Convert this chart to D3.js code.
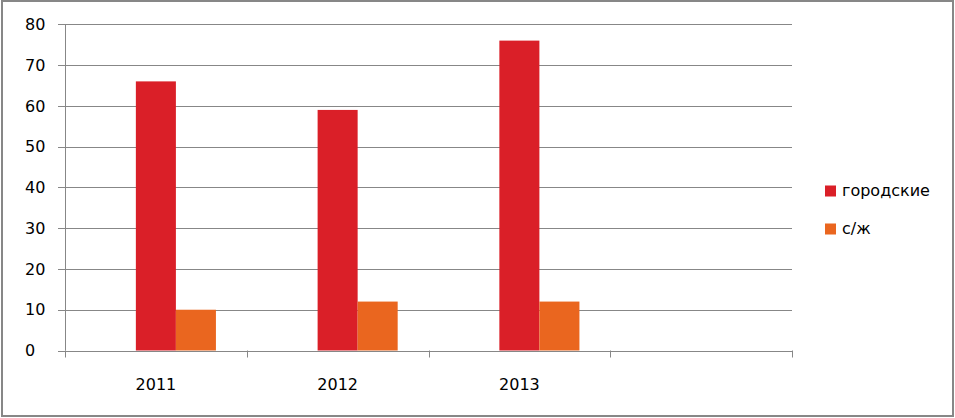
<!DOCTYPE html>
<html><head><meta charset="utf-8">
<script src="https://cdn.jsdelivr.net/npm/d3@7"></script>
<style>html,body{margin:0;padding:0;background:#fff;}svg{display:block;}</style>
</head><body>
<svg id="c" width="955" height="418"></svg>
<script>
const categories = ["2011", "2012", "2013", ""];
const seriesNames = ["", "городские", "с/ж"];
const seriesBlank = [null, null, null, null];
const seriesCity = [66, 59, 76, null];
const seriesRural = [10, 12, 12, null];
const seriesColors = ["none", "#DA1F28", "#EA661F"];
const yTicks = [0, 10, 20, 30, 40, 50, 60, 70, 80];
const legendItems = [1, 2];

(function () {
const svg = d3.select("#c");
const font = "'DejaVu Sans', Verdana, sans-serif";
const grid = "#878787";

svg.append("rect").attr("x", 2).attr("y", 1).attr("width", 951).attr("height", 415)
  .attr("fill", "#fff").attr("stroke", grid).attr("stroke-width", 2);

const pL = 65, pR = 792, pT = 24.3, pB = 350.5;
const x = d3.scaleBand().domain(categories.map((c, i) => i)).range([pL, pR]).padding(0);
const y = d3.scaleLinear().domain([0, 80]).range([pB, pT]);
const sub = d3.scaleBand().domain([0, 1, 2]).range([0, x.bandwidth()]).paddingOuter(0.77).paddingInner(0);

// gridlines
svg.append("g").selectAll("line").data(yTicks).join("line")
  .attr("x1", pL - 7).attr("x2", pR)
  .attr("y1", d => Math.round(y(d)) + 0.5).attr("y2", d => Math.round(y(d)) + 0.5)
  .attr("stroke", grid).attr("stroke-width", 1);

// y labels
svg.append("g").selectAll("text").data(yTicks).join("text")
  .attr("x", 25).attr("y", d => y(d)).attr("dy", "0.36em")
  .attr("font-family", font).attr("font-size", 16).attr("fill", "#000")
  .text(d => d);

// y axis line
svg.append("line").attr("x1", pL + 0.5).attr("x2", pL + 0.5).attr("y1", pT).attr("y2", pB)
  .attr("stroke", grid);

// x ticks
const tickXs = categories.map((c, i) => x(i)).concat([pR]);
svg.append("g").selectAll("line").data(tickXs).join("line")
  .attr("x1", d => Math.round(d) + 0.5).attr("x2", d => Math.round(d) + 0.5)
  .attr("y1", pB).attr("y2", pB + 7).attr("stroke", grid);

// bars
const allSeries = [seriesBlank, seriesCity, seriesRural];
allSeries.forEach((vals, s) => {
  if (s === 0) return;
  svg.append("g").selectAll("rect").data(vals.map((v, i) => ({v, i})).filter(d => d.v != null)).join("rect")
    .attr("x", d => x(d.i) + sub(s))
    .attr("width", sub.bandwidth())
    .attr("y", d => y(d.v))
    .attr("height", d => y(0) - y(d.v))
    .attr("fill", seriesColors[s]);
});

// x labels
svg.append("g").selectAll("text").data(categories).join("text")
  .attr("x", (d, i) => x(i) + x.bandwidth() / 2).attr("y", 390)
  .attr("text-anchor", "middle")
  .attr("font-family", font).attr("font-size", 16).attr("fill", "#000")
  .text(d => d);

// legend
const lg = svg.append("g");
legendItems.forEach((s, k) => {
  const cy = 191 + k * 38;
  lg.append("rect").attr("x", 825).attr("y", cy - 5.5).attr("width", 11).attr("height", 11)
    .attr("fill", seriesColors[s]);
  lg.append("text").attr("x", 842).attr("y", cy).attr("dy", "0.32em")
    .attr("font-family", font).attr("font-size", 16).attr("fill", "#000")
    .text(seriesNames[s]);
});
})();
</script>
</body></html>
